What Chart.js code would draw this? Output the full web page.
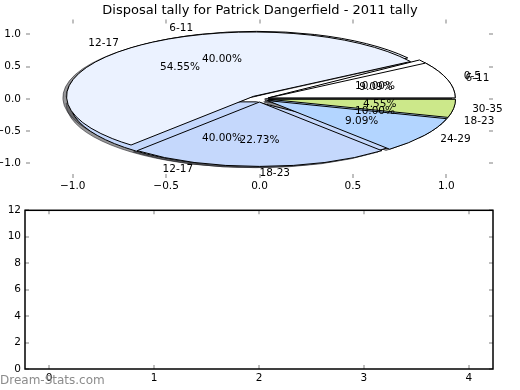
<!DOCTYPE html>
<html>
<head>
<meta charset="utf-8">
<script src="https://cdn.jsdelivr.net/npm/chart.js@4"></script>
<style>
  body { margin: 0; background: #fff; }
  #wrap { position: relative; width: 520px; height: 390px; }
  canvas { position: absolute; left: 0; top: 0; }
  #bottomChart { top: 200px; }
</style>
</head>
<body>
<div id="wrap">
  <canvas id="axesTop" width="520" height="200"></canvas>
  <canvas id="shadow2" width="520" height="200"></canvas>
  <canvas id="shadow1" width="520" height="200"></canvas>
  <canvas id="pie2" width="520" height="200"></canvas>
  <canvas id="pie1" width="520" height="200"></canvas>
  <canvas id="bottomChart" width="520" height="190"></canvas>
</div>
<script>
// Chart data
const chartTitle = 'Disposal tally for Patrick Dangerfield - 2011 tally';
const groupsA = ['6-11', '12-17', '18-23', '24-29', '30-35'];
const gamesA = [2, 12, 5, 2, 1];
const groupsB = ['0-5', '6-11', '12-17', '18-23'];
const gamesB = [1, 4, 4, 1];
const sliceColors = ['#ffffff', '#ebf2ff', '#c5d8fc', '#b3d5ff', '#cce88a'];
const pieTicks = [-1, -0.5, 0, 0.5, 1];
const countTicksX = [0, 1, 2, 3, 4];
const countTicksY = [0, 2, 4, 6, 8, 10, 12];
const countValues = []; // lower panel has nothing plotted

const EXPLODE = 0.05;   // wedge pull-out, in radius units
const SHADOW = 0.02;    // shadow shift, in radius units

Chart.defaults.font.family = '"DejaVu Sans", sans-serif';
Chart.defaults.font.size = 10.5;
Chart.defaults.color = '#000';

const tickFmt = v => (v < 0 ? '\u2212' : '') + Math.abs(v).toFixed(1);

// gray inward tick marks (+ optional black frame)
const innerTicks = {
    id: 'innerTicks',
    afterDraw(chart, args, opts) {
        const { ctx, chartArea: a } = chart;
        const sx = chart.scales.x, sy = chart.scales.y;
        ctx.save();
        ctx.strokeStyle = '#bfbfbf';
        ctx.lineWidth = 2;
        ctx.beginPath();
        sx.ticks.forEach(t => {
            const p = Math.round(sx.getPixelForValue(t.value));
            ctx.moveTo(p, a.top); ctx.lineTo(p, a.top + 4);
            ctx.moveTo(p, a.bottom); ctx.lineTo(p, a.bottom - 4);
        });
        sy.ticks.forEach(t => {
            const p = Math.round(sy.getPixelForValue(t.value));
            ctx.moveTo(a.left, p); ctx.lineTo(a.left + 4, p);
            ctx.moveTo(a.right, p); ctx.lineTo(a.right - 4, p);
        });
        ctx.stroke();
        if (opts.frame) {
            ctx.strokeStyle = '#000';
            ctx.lineWidth = 1.5;
            ctx.strokeRect(a.left, a.top, a.width, a.height);
        }
        if (opts.mark) {
            ctx.fillStyle = '#8c8c8c';
            ctx.font = '12px "DejaVu Sans"';
            ctx.textBaseline = 'middle';
            ctx.textAlign = 'left';
            ctx.fillText(opts.mark, 0, 181);
        }
        ctx.restore();
    }
};

// Top axes (ticks + title only)
const axesTop = new Chart(document.getElementById('axesTop'), {
    type: 'scatter',
    data: { datasets: [] },
    options: {
        responsive: false,
        animation: false,
        plugins: {
            legend: { display: false },
            tooltip: { enabled: false },
            title: { display: true, text: chartTitle, font: { size: 13, weight: 'normal' }, padding: { top: 3, bottom: 1 } }
        },
        scales: {
            x: {
                min: -1.25, max: 1.25,
                afterBuildTicks: s => { s.ticks = pieTicks.map(v => ({ value: v })); },
                ticks: { callback: tickFmt, padding: 2, maxRotation: 0, autoSkip: false },
                grid: { display: false, drawTicks: false },
                border: { display: false },
                afterFit: s => { s.height = 22; }
            },
            y: {
                min: -1.23, max: 1.23,
                afterBuildTicks: s => { s.ticks = pieTicks.map(v => ({ value: v })); },
                ticks: { callback: tickFmt, padding: 5, autoSkip: false },
                grid: { display: false, drawTicks: false },
                border: { display: false },
                afterFit: s => { s.width = 26; }
            },
            y2: {
                position: 'right',
                ticks: { display: false },
                grid: { display: false, drawTicks: false },
                border: { display: false },
                afterFit: s => { s.width = 27; }
            }
        }
    },
    plugins: [innerTicks]
});

// pie geometry taken from the axes
const ax = axesTop.scales.x, ay = axesTop.scales.y;
const cx0 = ax.getPixelForValue(0), cy0 = ay.getPixelForValue(0);
const rx = ax.getPixelForValue(1) - cx0;
const ry = cy0 - ay.getPixelForValue(1);
const K = ry / rx;

// pull every wedge out along its middle angle
let explodePx = 0;
const arcDraw = Chart.ArcElement.prototype.draw;
Chart.ArcElement.prototype.draw = function (ctx) {
    const mid = (this.startAngle + this.endAngle) / 2;
    ctx.save();
    ctx.translate(Math.cos(mid) * explodePx, Math.sin(mid) * explodePx);
    arcDraw.call(this, ctx);
    ctx.restore();
};

// squash the pie into an ellipse (and flip so it runs counter-clockwise)
const squash = {
    id: 'squash',
    beforeDatasetsDraw(chart) {
        const ctx = chart.ctx, a = chart.chartArea;
        const cy = (a.top + a.bottom) / 2;
        const base = ctx.getTransform();
        ctx.save();
        ctx.translate(0, cy);
        ctx.scale(1, -K);
        ctx.translate(0, -cy);
        // edges keep their real 1px width
        ctx.stroke = function () {
            this.save();
            this.setTransform(base);
            CanvasRenderingContext2D.prototype.stroke.call(this);
            this.restore();
        };
        explodePx = EXPLODE * rx;
    },
    afterDatasetsDraw(chart) {
        delete chart.ctx.stroke;
        chart.ctx.restore();
        explodePx = 0;
    }
};

function centerPadding(x, y) {
    const p = { left: 0, right: 0, top: 0, bottom: 0 };
    if (x > 260) p.left = 2 * x - 520; else p.right = 520 - 2 * x;
    if (y > 100) p.top = 2 * y - 200; else p.bottom = 200 - 2 * y;
    return p;
}

function makePie(id, labels, values, fill, edge, dx, dy, extra) {
    return new Chart(document.getElementById(id), {
        type: 'pie',
        data: {
            labels: labels,
            datasets: [{ data: values, backgroundColor: fill, borderColor: edge, borderWidth: 1, clip: false }]
        },
        options: {
            responsive: false,
            animation: false,
            radius: rx,
            rotation: 90,
            layout: { padding: centerPadding(cx0 + dx, cy0 + dy) },
            plugins: { legend: { display: false }, tooltip: { enabled: false } }
        },
        plugins: [squash].concat(extra || [])
    });
}

const shadowFill = 'rgba(65, 65, 70, 0.55)';
const shadowEdge = 'rgba(30, 30, 35, 0.55)';
makePie('shadow2', groupsB, gamesB, shadowFill, shadowEdge, -SHADOW * rx, SHADOW * ry);
makePie('shadow1', groupsA, gamesA, shadowFill, shadowEdge, -SHADOW * rx, SHADOW * ry);
const pie2 = makePie('pie2', groupsB, gamesB, sliceColors, '#000', 0, 0);

// wedge names and percentages for both pies, on top of everything
function drawLabels(ctx, chart, labels, values) {
    const total = values.reduce((s, v) => s + v, 0);
    chart.getDatasetMeta(0).data.forEach((arc, i) => {
        const mid = (arc.startAngle + arc.endAngle) / 2;
        const put = (dist, text, align) => {
            const r = EXPLODE * rx + dist * rx;
            const x = arc.x + Math.cos(mid) * r;
            const y = arc.y - Math.sin(mid) * r * K;
            ctx.textAlign = align || (x - arc.x > -0.01 ? 'left' : 'right');
            ctx.fillText(text, x, y);
        };
        put(1.1, labels[i]);
        put(0.6, (values[i] / total * 100).toFixed(2) + '%', 'center');
    });
}

const pieText = {
    id: 'pieText',
    afterDraw(chart) {
        const ctx = chart.ctx;
        ctx.save();
        ctx.fillStyle = '#000';
        ctx.font = '10.5px "DejaVu Sans"';
        ctx.textBaseline = 'middle';
        drawLabels(ctx, pie2, groupsB, gamesB);
        drawLabels(ctx, chart, groupsA, gamesA);
        ctx.restore();
    }
};

makePie('pie1', groupsA, gamesA, sliceColors, '#000', 0, 0, [pieText]);

// Lower, empty panel
new Chart(document.getElementById('bottomChart'), {
    type: 'scatter',
    data: { datasets: [{ data: countValues, backgroundColor: '#b3d5ff' }] },
    options: {
        responsive: false,
        animation: false,
        layout: { padding: { top: 10 } },
        plugins: {
            legend: { display: false },
            tooltip: { enabled: false },
            innerTicks: { frame: true, mark: 'Dream-Stats.com' }
        },
        scales: {
            x: {
                min: -0.23, max: 4.23,
                afterBuildTicks: s => { s.ticks = countTicksX.map(v => ({ value: v })); },
                ticks: { padding: 3, autoSkip: false, maxRotation: 0 },
                grid: { display: false, drawTicks: false },
                border: { display: false },
                afterFit: s => { s.height = 21; }
            },
            y: {
                min: 0, max: 12,
                afterBuildTicks: s => { s.ticks = countTicksY.map(v => ({ value: v })); },
                ticks: { padding: 4, autoSkip: false },
                grid: { display: false, drawTicks: false },
                border: { display: false },
                afterFit: s => { s.width = 25; }
            },
            y2: {
                position: 'right',
                ticks: { display: false },
                grid: { display: false, drawTicks: false },
                border: { display: false },
                afterFit: s => { s.width = 27; }
            }
        }
    },
    plugins: [innerTicks]
});
</script>
</body>
</html>
